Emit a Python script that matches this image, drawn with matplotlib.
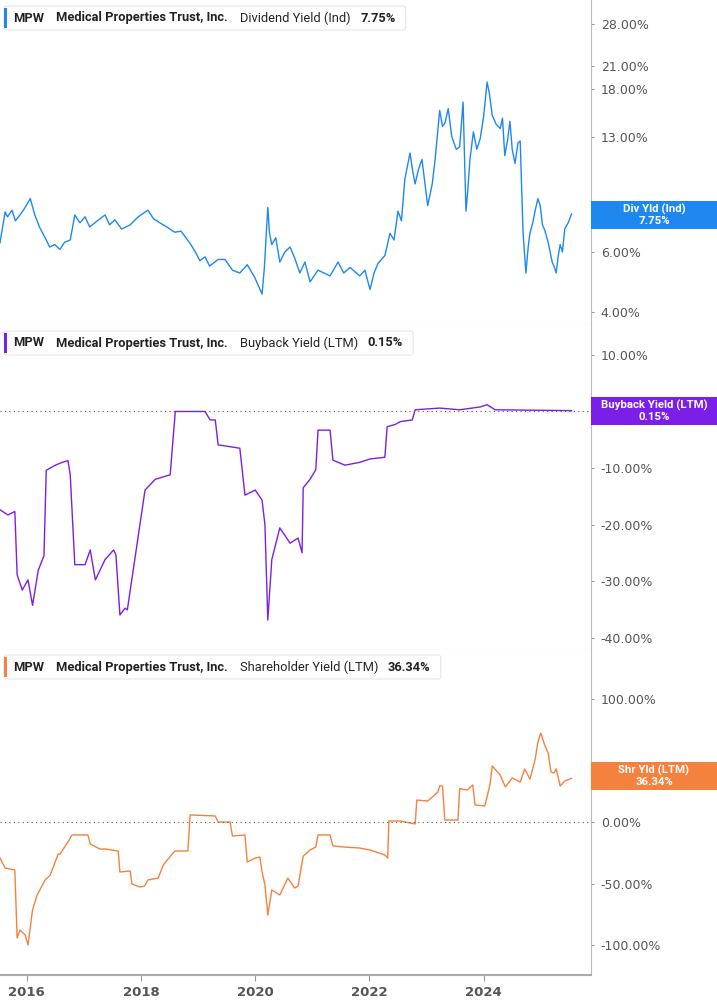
import matplotlib
matplotlib.use("Agg")
import matplotlib.pyplot as plt
import numpy as np
from matplotlib.patches import Rectangle, FancyBboxPatch

# ---- data (x in decimal years, values in %) ----
div_x = [2015.53,2015.62,2015.66,2015.74,2015.80,2015.88,2015.95,2016.06,2016.14,2016.22,2016.32,2016.40,2016.49,2016.58,2016.66,2016.76,2016.84,2016.93,2017.02,2017.10,2017.19,2017.28,2017.37,2017.45,2017.54,2017.66,2017.81,2017.95,2018.12,2018.22,2018.33,2018.45,2018.59,2018.70,2018.86,2018.95,2019.03,2019.12,2019.20,2019.35,2019.47,2019.60,2019.73,2019.86,2019.99,2020.12,2020.16,2020.22,2020.25,2020.29,2020.36,2020.43,2020.52,2020.61,2020.70,2020.78,2020.87,2020.96,2021.10,2021.31,2021.45,2021.55,2021.66,2021.83,2021.92,2022.01,2022.08,2022.15,2022.27,2022.36,2022.43,2022.50,2022.56,2022.62,2022.71,2022.76,2022.80,2022.86,2022.92,2023.02,2023.10,2023.15,2023.23,2023.28,2023.32,2023.38,2023.44,2023.52,2023.58,2023.64,2023.69,2023.72,2023.76,2023.82,2023.88,2023.94,2024.00,2024.06,2024.10,2024.15,2024.22,2024.29,2024.33,2024.37,2024.42,2024.46,2024.50,2024.55,2024.60,2024.64,2024.69,2024.74,2024.78,2024.81,2024.86,2024.90,2024.95,2024.99,2025.03,2025.07,2025.13,2025.20,2025.24,2025.27,2025.31,2025.34,2025.38,2025.42,2025.48,2025.54]
div_v = [6.38,7.86,7.6,7.95,7.4,7.70,8.0,8.6,7.70,7.1,6.6,6.2,6.3,6.1,6.4,6.5,7.70,7.3,7.60,7.1,7.3,7.5,7.70,7.2,7.45,7.0,7.2,7.6,7.95,7.5,7.30,7.1,6.85,6.9,6.35,6.0,5.65,5.8,5.45,5.7,5.70,5.3,5.20,5.5,5.05,4.51,5.4,8.1,6.8,6.3,6.6,5.6,6.0,6.2,5.7,5.2,5.6,4.9,5.3,5.1,5.6,5.2,5.4,5.1,5.3,4.65,5.2,5.55,5.85,6.8,6.5,7.90,7.4,9.8,11.7,10.3,9.5,10.5,11.2,8.2,9.5,11.2,15.6,14.0,14.3,15.8,13.1,12.0,12.2,16.5,7.9,9.0,11.2,13.5,12.0,12.9,15.0,18.9,17.5,15.1,14.2,13.8,14.8,11.5,12.8,14.5,12.0,10.9,12.5,12.7,6.85,5.2,6.2,6.8,7.3,7.9,8.6,8.2,7.2,6.95,6.4,5.6,5.4,5.2,5.9,6.3,6.0,7.0,7.3,7.75]

bb_x = [2015.53,2015.67,2015.79,2015.83,2015.92,2016.02,2016.10,2016.20,2016.30,2016.34,2016.50,2016.62,2016.72,2016.76,2016.84,2017.02,2017.11,2017.20,2017.37,2017.52,2017.56,2017.63,2017.72,2017.76,2018.07,2018.25,2018.51,2018.60,2019.12,2019.21,2019.30,2019.35,2019.73,2019.82,2020.00,2020.12,2020.17,2020.22,2020.29,2020.43,2020.61,2020.75,2020.82,2020.84,2020.96,2021.06,2021.10,2021.31,2021.36,2021.57,2021.83,2022.01,2022.27,2022.31,2022.45,2022.54,2022.75,2022.80,2023.23,2023.58,2023.94,2024.06,2024.20,2025.54]
bb_v = [-17.4,-18.3,-17.7,-28.9,-31.6,-29.8,-34.3,-28.1,-25.5,-10.4,-9.5,-9.0,-8.7,-11.2,-27.1,-27.1,-24.5,-29.8,-26.2,-24.5,-25.4,-36.0,-34.8,-35.1,-13.9,-12.0,-11.2,0.0,0.0,-1.5,-1.5,-5.9,-6.5,-14.8,-13.9,-15.7,-20.1,-36.9,-26.2,-20.6,-23.3,-22.4,-25.0,-13.5,-12.0,-10.3,-3.3,-3.3,-8.6,-9.5,-9.0,-8.4,-8.1,-2.7,-2.3,-1.8,-1.5,0.3,0.6,0.3,0.8,1.2,0.3,0.15]

sy_x = [2015.53,2015.62,2015.79,2015.83,2015.88,2015.97,2016.02,2016.10,2016.18,2016.32,2016.41,2016.55,2016.58,2016.72,2016.79,2016.84,2017.07,2017.11,2017.28,2017.37,2017.60,2017.63,2017.81,2017.84,2017.98,2018.06,2018.12,2018.30,2018.39,2018.59,2018.82,2018.86,2019.30,2019.35,2019.56,2019.60,2019.82,2019.86,2020.00,2020.08,2020.12,2020.17,2020.22,2020.29,2020.43,2020.57,2020.69,2020.75,2020.84,2020.96,2021.06,2021.10,2021.31,2021.36,2021.57,2021.83,2022.01,2022.27,2022.32,2022.34,2022.54,2022.80,2022.83,2023.02,2023.20,2023.23,2023.28,2023.32,2023.55,2023.58,2023.71,2023.81,2023.85,2024.02,2024.11,2024.15,2024.29,2024.38,2024.50,2024.64,2024.72,2024.81,2024.90,2024.95,2025.00,2025.07,2025.13,2025.18,2025.23,2025.27,2025.34,2025.42,2025.54]
sy_v = [-29.2,-37.3,-38.9,-94.0,-87.5,-91.6,-99.6,-71.3,-59.2,-47.0,-43.0,-25.9,-25.9,-16.2,-10.5,-10.5,-10.5,-17.8,-21.9,-21.9,-23.5,-40.5,-39.7,-50.2,-52.7,-51.9,-47.0,-45.4,-34.8,-23.5,-23.5,5.7,4.9,0.0,0.0,-11.3,-10.5,-32.4,-29.2,-28.4,-40.5,-51.1,-75.4,-55.1,-59.2,-45.4,-53.5,-51.9,-27.6,-22.7,-20.3,-10.5,-10.5,-19.4,-20.3,-21.1,-22.7,-26.7,-29.2,0.8,0.8,-1.6,17.8,17.0,24.3,29.2,29.2,1.6,1.6,27.1,25.9,30.0,13.8,13.0,30.0,45.4,38.1,28.4,35.7,32.4,42.9,34.8,50.2,64.8,72.1,62.2,55.9,40.5,39.7,43.0,29.2,33.2,35.4]

years = [2016, 2018, 2020, 2022, 2024]
XMIN, XMAX = 2015.53, 2025.88

W, H = 717, 1005
fig = plt.figure(figsize=(W/100, H/100), dpi=100)
GRAY = "#555555"
AX_R = 591
renderer = fig.canvas.get_renderer()

def add_panel(top, bottom):
    ax = fig.add_axes([0, 1-bottom/H, AX_R/W, (bottom-top)/H])
    for s in ["top", "left"]:
        ax.spines[s].set_visible(False)
    ax.spines["right"].set_color("#bbbbbb")
    ax.spines["bottom"].set_color("#cccccc")
    ax.yaxis.tick_right()
    ax.tick_params(axis="y", length=2, colors="#999999", labelcolor=GRAY, labelsize=9, pad=5)
    ax.set_xlim(XMIN, XMAX)
    return ax

def legend(ytop, color, metric, value):
    yc = 1-(ytop+12)/H
    x = 13
    parts = [("MPW", "bold", 12), ("Medical Properties Trust, Inc.", "bold", 12),
             (metric, "normal", 10), (value, "bold", 0)]
    for txt, wt, gap in parts:
        t = fig.text(x/W, yc, txt, fontsize=9.3, fontweight=wt, color="#222222",
                     va="center", zorder=7, fontfamily="Roboto")
        x += t.get_window_extent(renderer).width + gap
    right = x + 10
    fig.patches.append(FancyBboxPatch((4/W, 1-(ytop+24)/H), (right-4)/W, 24/H,
        boxstyle="round,pad=0,rounding_size=0.003", transform=fig.transFigure,
        facecolor="white", edgecolor="#e6e6e6", lw=0.8, zorder=5))
    fig.patches.append(Rectangle((4/W, 1-(ytop+22)/H), 2.5/W, 20/H, transform=fig.transFigure,
        facecolor=color, edgecolor="none", zorder=6))

def tag(yc, color, l1, l2):
    fig.patches.append(Rectangle((AX_R/W, 1-(yc+14)/H), (W-AX_R)/W, 28/H, transform=fig.transFigure,
        facecolor=color, edgecolor="none", zorder=8))
    fig.text((AX_R+63)/W, 1-yc/H, l1+"\n"+l2, fontsize=8.2, fontweight="bold", color="white",
             ha="center", va="center", linespacing=1.05, zorder=9, fontfamily="Roboto")

# top
ax1 = add_panel(0, 325)
ax1.plot(div_x, div_v, color="#1e88f0", lw=1)
ax1.set_yscale("log")
ax1.set_ylim(3.66, 32.9)
t1 = [4, 6, 13, 18, 21, 28]
ax1.set_yticks(t1); ax1.set_yticks([], minor=True)
ax1.set_yticklabels([f"{t:.2f}%" for t in t1])
ax1.set_xticks([])
legend(6, "#1e88f0", "Dividend Yield (Ind)", "7.75%")
tag(215, "#1e88f0", "Div Yld (Ind)", "7.75%")

# middle
ax2 = add_panel(325, 650)
ax2.plot(bb_x, bb_v, color="#7b1fe8", lw=1)
ax2.axhline(0, color="#555555", ls=(0, (1, 3)), lw=0.8)
ax2.set_ylim(-42.2, 15.3)
t2 = [10, -10, -20, -30, -40]
ax2.set_yticks(t2); ax2.set_yticklabels([f"{t:.2f}%" for t in t2])
ax2.set_xticks([])
legend(331, "#7b1fe8", "Buyback Yield (LTM)", "0.15%")
tag(411, "#7b1fe8", "Buyback Yield (LTM)", "0.15%")

# bottom
ax3 = add_panel(650, 975)
ax3.plot(sy_x, sy_v, color="#f5813f", lw=1)
ax3.axhline(0, color="#555555", ls=(0, (1, 3)), lw=0.8)
ax3.set_ylim(-124, 139.4)
t3 = [100, 0, -50, -100]
ax3.set_yticks(t3); ax3.set_yticklabels([f"{t:.2f}%" for t in t3])
ax3.set_xticks(years); ax3.set_xticklabels([str(y) for y in years])
ax3.tick_params(axis="x", length=4, colors="#999999", labelcolor=GRAY, labelsize=9.5, pad=4)
for lb in ax3.get_xticklabels():
    lb.set_fontweight("bold")
ax3.spines["bottom"].set_color("#aaaaaa"); ax3.spines["bottom"].set_linewidth(1.5)
legend(655, "#f5813f", "Shareholder Yield (LTM)", "36.34%")
tag(776, "#f5813f", "Shr Yld (LTM)", "36.34%")

fig.savefig("out.png", dpi=100)
